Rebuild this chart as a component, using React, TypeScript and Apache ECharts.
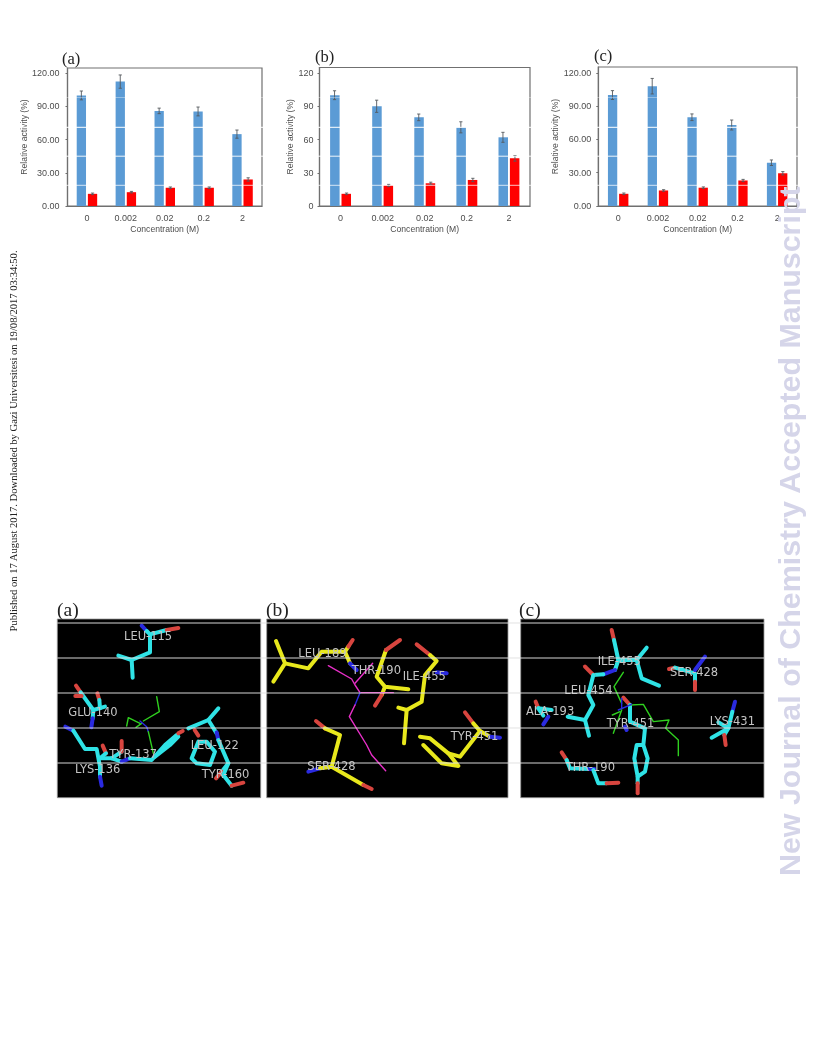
import React, { useEffect, useRef } from "react";
import * as echarts from "echarts";

const categories = ["0", "0.002", "0.02", "0.2", "2"];
const blueA = [100, 112.5, 86, 85.5, 65];
const blueAErr = [4, 6, 2.5, 4, 3.7];
const redA = [11, 12.5, 16.5, 16.5, 24];
const redAErr = [0.7, 0.7, 0.7, 0.7, 1.5];
const blueB = [100, 90, 80, 71, 62];
const blueBErr = [4, 5.5, 3, 5, 4.5];
const redB = [11, 18.5, 20.5, 23.5, 43];
const redBErr = [0.7, 1, 1, 1.5, 2.5];
const blueC = [100, 108, 80, 73, 39];
const blueCErr = [4, 7, 3, 4.5, 2.5];
const redC = [11, 14, 16.5, 23, 29.5];
const redCErr = [0.7, 0.7, 0.7, 1, 1.5];
const yTicks = [0, 30, 60, 90, 120];

const CY = "#2fe3e6";
const RD = "#d8453f";
const BL = "#2a2ae0";
const YL = "#e8e81c";
const GR = "#2fd01f";
const MG = "#e82fc8";

type Stroke = [string, number[]];

const moleculeA: Stroke[] = [
  [BL, [275, 92, 290, 108]],
  [CY, [290, 108, 300, 118, 350, 105]],
  [RD, [350, 105, 385, 99]],
  [CY, [300, 118, 300, 172, 245, 195, 205, 182]],
  [CY, [245, 195, 248, 248]],
  [RD, [78, 272, 92, 292]],
  [CY, [92, 292, 130, 345]],
  [RD, [76, 303, 95, 303]],
  [RD, [142, 295, 148, 315]],
  [CY, [148, 315, 150, 340]],
  [CY, [130, 345, 165, 335]],
  [CY, [130, 345, 128, 370]],
  [BL, [128, 370, 124, 397]],
  [BL, [46, 395, 70, 407]],
  [CY, [70, 407, 105, 462, 140, 462, 150, 515, 150, 545]],
  [BL, [150, 545, 155, 572]],
  [CY, [150, 490, 185, 490, 215, 470]],
  [RD, [215, 438, 215, 470]],
  [RD, [158, 452, 168, 475]],
  [CY, [168, 475, 150, 490]],
  [CY, [185, 490, 215, 500]],
  [BL, [215, 500, 240, 490]],
  [CY, [240, 490, 305, 495, 345, 450, 380, 420]],
  [CY, [315, 485, 360, 450, 385, 425]],
  [RD, [385, 415, 398, 408]],
  [CY, [415, 400, 475, 375, 505, 340]],
  [CY, [475, 375, 500, 415]],
  [BL, [500, 412, 505, 435]],
  [CY, [505, 435, 535, 505, 515, 530]],
  [RD, [498, 550, 515, 530]],
  [RD, [434, 405, 445, 422]],
  [CY, [445, 440, 425, 490, 440, 505, 480, 510, 495, 470, 470, 440, 445, 440]],
  [CY, [535, 505, 520, 540, 545, 572]],
  [RD, [545, 572, 580, 563]],
];
const ligandA: Stroke[] = [
  [GR, [320, 305, 328, 350, 280, 378]],
  [GR, [270, 385, 235, 368, 230, 393]],
  [GR, [258, 397, 275, 385]],
  [BL, [270, 378, 290, 395, 295, 410]],
  [GR, [295, 410, 310, 475]],
];
const moleculeB: Stroke[] = [
  [YL, [48, 138, 75, 205, 40, 260]],
  [YL, [75, 205, 145, 220, 185, 170, 255, 170, 270, 205]],
  [YL, [255, 170, 265, 155]],
  [RD, [265, 155, 278, 135]],
  [BL, [270, 205, 290, 225]],
  [YL, [378, 165, 350, 245, 375, 275, 445, 283]],
  [RD, [420, 135, 378, 165]],
  [YL, [375, 275, 365, 300]],
  [RD, [365, 300, 345, 332]],
  [RD, [470, 148, 510, 180]],
  [YL, [510, 180, 530, 198, 495, 240, 485, 320, 440, 345, 415, 338]],
  [YL, [440, 345, 432, 445]],
  [BL, [530, 232, 560, 235]],
  [RD, [615, 352, 640, 385]],
  [YL, [640, 385, 660, 408, 600, 485, 565, 475, 510, 430, 480, 425]],
  [YL, [565, 475, 595, 513, 545, 505, 490, 450]],
  [YL, [660, 408, 690, 425]],
  [BL, [690, 425, 720, 428]],
  [RD, [168, 378, 195, 400]],
  [YL, [195, 400, 240, 420, 215, 515, 310, 570]],
  [RD, [310, 570, 335, 582]],
  [BL, [145, 530, 180, 520]],
  [YL, [180, 520, 215, 515]],
];
const ligandB: Stroke[] = [
  [MG, [205, 212, 275, 252, 285, 270, 300, 293, 400, 293]],
  [MG, [285, 265, 338, 205]],
  [BL, [300, 293, 285, 330]],
  [MG, [285, 330, 268, 365, 320, 450, 335, 480, 377, 527]],
];
const moleculeC: Stroke[] = [
  [RD, [290, 105, 297, 135]],
  [CY, [297, 135, 310, 195, 365, 195, 395, 158]],
  [CY, [365, 195, 380, 250, 432, 272]],
  [CY, [310, 195, 300, 225]],
  [BL, [300, 225, 265, 238]],
  [CY, [265, 238, 235, 240]],
  [RD, [210, 215, 235, 240]],
  [CY, [235, 240, 220, 300, 235, 330, 210, 375, 158, 365]],
  [CY, [210, 375, 222, 422]],
  [RD, [462, 222, 480, 218]],
  [CY, [480, 218, 540, 235, 540, 260]],
  [RD, [540, 260, 540, 285]],
  [BL, [570, 185, 540, 225]],
  [RD, [62, 320, 70, 340]],
  [CY, [70, 340, 110, 345]],
  [CY, [70, 340, 85, 362]],
  [BL, [100, 365, 85, 388]],
  [BL, [660, 320, 652, 350]],
  [CY, [652, 350, 640, 400, 590, 428]],
  [CY, [610, 382, 640, 400, 628, 420]],
  [RD, [628, 420, 632, 450]],
  [RD, [325, 308, 345, 330]],
  [CY, [345, 330, 345, 380, 390, 400, 385, 450, 365, 450, 358, 490, 368, 545, 390, 530, 398, 490, 385, 450]],
  [CY, [368, 545, 368, 565]],
  [RD, [368, 565, 368, 595]],
  [BL, [330, 395, 335, 405]],
  [RD, [140, 472, 155, 495]],
  [CY, [155, 495, 165, 520, 222, 522]],
  [BL, [222, 522, 238, 522]],
  [CY, [235, 525, 250, 565, 275, 565]],
  [RD, [275, 565, 310, 563]],
];
const ligandC: Stroke[] = [
  [GR, [325, 232, 297, 275, 320, 325]],
  [GR, [345, 330, 385, 328, 415, 380, 462, 375, 452, 400, 490, 435, 490, 482]],
  [BL, [320, 310, 320, 340]],
  [BL, [310, 345, 350, 328]],
  [GR, [320, 345, 295, 415]],
  [GR, [292, 360, 315, 350]],
];

const labelsA: [string, number, number][] = [
  ["LEU-115", 222, 122], ["GLU-140", 55, 350], ["TYR-137", 178, 478], ["LYS-136", 75, 522],
  ["LEU-122", 422, 450], ["TYR-160", 455, 537],
];
const labelsB: [string, number, number][] = [
  ["LEU-189", 115, 175], ["THR-190", 275, 226], ["ILE-455", 428, 243], ["TYR-451", 572, 422], ["SER-428", 142, 512],
];
const labelsC: [string, number, number][] = [
  ["ILE-455", 248, 198], ["SER-428", 465, 232], ["LEU-454", 148, 285], ["ALA-193", 33, 347],
  ["TYR-451", 275, 385], ["LYS-431", 584, 379], ["THR-190", 152, 517],
];

function panel(x0: number, y0: number, strokes: Stroke[], ligand: Stroke[], labels: [string, number, number][]) {
  const scale = (p: number[]) => {
    const out: number[][] = [];
    for (let i = 0; i < p.length; i += 2) out.push([x0 + p[i] / 3, y0 + p[i + 1] / 3]);
    return out;
  };
  const els: any[] = [];
  strokes.forEach(([c, p]) =>
    els.push({ type: "polyline", z: 12, shape: { points: scale(p) }, style: { stroke: c, lineWidth: 4, lineCap: "round", lineJoin: "round", fill: "none" } })
  );
  ligand.forEach(([c, p]) =>
    els.push({ type: "polyline", z: 13, shape: { points: scale(p) }, style: { stroke: c, lineWidth: 1.4, lineCap: "round", lineJoin: "round", fill: "none" } })
  );
  labels.forEach(([t, x, y]) =>
    els.push({
      type: "text", z: 14, x: x0 + x / 3, y: y0 + y / 3,
      style: { text: t, fill: "#c4c4c4", font: '11.5px "DejaVu Sans"', textAlign: "left", textVerticalAlign: "middle" },
    })
  );
  return els;
}

const hLine = (y: number, x1: number, x2: number, stroke: string, opacity: number) => ({
  type: "line", z: 15, shape: { x1, y1: y, x2, y2: y }, style: { stroke, lineWidth: 1, opacity },
});

const caption = (t: string, x: number, y: number, size: number) => ({
  type: "text", z: 14, x, y,
  style: { text: t, fill: "#222", font: `${size}px "Liberation Serif"`, textAlign: "left", textVerticalAlign: "middle" },
});

const grids = [
  { left: 67.5, top: 68, width: 194.5, height: 138 },
  { left: 319.5, top: 67.5, width: 210.5, height: 138.5 },
  { left: 598.3, top: 67, width: 198.7, height: 139 },
];
const MAXES = [124.8, 125, 125.3];
const NAME_GAPS = [39, 24, 35];
const LABEL_MARGINS = [8, 6, 7];
const DECIMALS = [2, 0, 2];
const BAR_W = [9.3, 9.5, 9.3];
const OFFS = [5.6, 6, 5.7];

const sets = [
  [blueA, blueAErr, redA, redAErr],
  [blueB, blueBErr, redB, redBErr],
  [blueC, blueCErr, redC, redCErr],
];

const errSeries = (gi: number, vals: number[], errs: number[], sign: number) => ({
  type: "custom",
  xAxisIndex: gi,
  yAxisIndex: gi,
  z: 5,
  silent: true,
  data: vals.map((v, i) => [i, v - errs[i], v + errs[i]]),
  encode: { x: 0, y: [1, 2] },
  renderItem: (_p: any, api: any) => {
    const lo = api.coord([api.value(0), api.value(1)]);
    const hi = api.coord([api.value(0), api.value(2)]);
    const x = lo[0] + sign * OFFS[gi];
    const style = { stroke: "#55595d", lineWidth: 0.9, fill: "none" };
    return {
      type: "group",
      children: [
        { type: "line", shape: { x1: x, y1: lo[1], x2: x, y2: hi[1] }, style },
        { type: "line", shape: { x1: x - 1.6, y1: lo[1], x2: x + 1.6, y2: lo[1] }, style },
        { type: "line", shape: { x1: x - 1.6, y1: hi[1], x2: x + 1.6, y2: hi[1] }, style },
      ],
    };
  },
});

const AXIS_TEXT = "#4d4d4d";
const FRAME = "#707070";

export default function App() {
  const ref = useRef<HTMLDivElement>(null);
  useEffect(() => {
    const chart = echarts.init(ref.current!, undefined, { renderer: "svg" });
    const graphic: any[] = [
      caption("(a)", 62, 58, 16.5),
      caption("(b)", 315, 56, 16.5),
      caption("(c)", 594, 55, 16.5),
      caption("(a)", 57, 609, 19.5),
      caption("(b)", 266, 609, 19.5),
      caption("(c)", 519, 609, 19.5),
      ...[
        [57.3, 619, 203.4],
        [266.7, 619, 241.3],
        [520.7, 619, 243.3],
      ].map(([x, y, w]) => ({
        type: "rect", z: 11, shape: { x, y, width: w, height: 178.7 },
        style: { fill: "#000", stroke: "#9a9a9a", lineWidth: 0.8 },
      })),
      ...panel(50, 595, moleculeA, ligandA, labelsA),
      ...panel(260, 595, moleculeB, ligandB, labelsB),
      ...panel(515, 595, moleculeC, ligandC, labelsC),
      hLine(97.5, 15, 800, "#ffffff", 0.35),
      hLine(127.3, 15, 800, "#ffffff", 1),
      hLine(156.2, 15, 800, "#ffffff", 0.9),
      hLine(185.3, 15, 800, "#ffffff", 0.75),
      hLine(214.4, 15, 800, "#ffffff", 0.9),
      ...[623, 658, 693, 728, 763].map((y) => hLine(y, 57.3, 764, "#e0e0e0", 0.95)),
      {
        type: "text", z: 14, x: 13, y: 441, rotation: Math.PI / 2,
        style: {
          text: "Published on 17 August 2017. Downloaded by Gazi Universitesi on 19/08/2017 03:34:50.",
          fill: "#222", font: '10.6px "Liberation Serif"', textAlign: "center", textVerticalAlign: "middle",
        },
      },
      {
        type: "text", z: 20, x: 803.5, y: 876, rotation: Math.PI / 2,
        style: {
          text: "New Journal of Chemistry Accepted Manuscript",
          fill: "#d5d5e9", font: 'bold 30.4px "Liberation Sans"', textAlign: "left", textVerticalAlign: "bottom",
        },
      },
    ];

    const series: any[] = [];
    sets.forEach(([b, be, r, re], gi) => {
      series.push({
        type: "bar", xAxisIndex: gi, yAxisIndex: gi, data: b, barWidth: BAR_W[gi],
        barGap: "20%", itemStyle: { color: "#5b9bd5" }, z: 3,
      });
      series.push({
        type: "bar", xAxisIndex: gi, yAxisIndex: gi, data: r, barWidth: BAR_W[gi],
        itemStyle: { color: "#ff0000" }, z: 3,
      });
      series.push(errSeries(gi, b, be, -1));
      series.push(errSeries(gi, r, re, 1));
    });

    chart.setOption({
      animation: false,
      backgroundColor: "#fff",
      grid: grids.map((g) => ({ ...g, show: true, borderColor: FRAME, borderWidth: 1.2, backgroundColor: "transparent" })),
      xAxis: grids.map((_g, gi) => ({
        type: "category", gridIndex: gi, data: categories,
        name: "Concentration (M)", nameLocation: "middle", nameGap: 18,
        nameTextStyle: { fontFamily: "Liberation Sans", fontSize: 8.6, color: AXIS_TEXT },
        axisLine: { lineStyle: { color: FRAME, width: 1.2 } },
        axisTick: { show: false },
        axisLabel: { margin: 7, fontFamily: "Liberation Sans", fontSize: 9, color: AXIS_TEXT, interval: 0 },
      })),
      yAxis: grids.map((_g, gi) => ({
        type: "value", gridIndex: gi, min: 0, max: MAXES[gi],
        name: "Relative activity (%)", nameLocation: "middle", nameGap: NAME_GAPS[gi], nameRotate: 90,
        nameTextStyle: { fontFamily: "Liberation Sans", fontSize: 8.6, color: AXIS_TEXT },
        splitLine: { show: false },
        axisLine: { show: true, lineStyle: { color: FRAME, width: 1.2 } },
        axisTick: { show: true, length: 2, customValues: yTicks, lineStyle: { color: FRAME } },
        axisLabel: {
          margin: LABEL_MARGINS[gi], fontFamily: "Liberation Sans", fontSize: 9, color: AXIS_TEXT,
          customValues: yTicks,
          formatter: (v: number) => v.toFixed(DECIMALS[gi]),
        },
      })),
      series,
      graphic,
    });
    return () => chart.dispose();
  }, []);
  return (
    <div
      ref={ref}
      style={{ position: "absolute", left: 0, top: 0, width: 816, height: 1056, filter: "blur(0.35px)" }}
    />
  );
}
